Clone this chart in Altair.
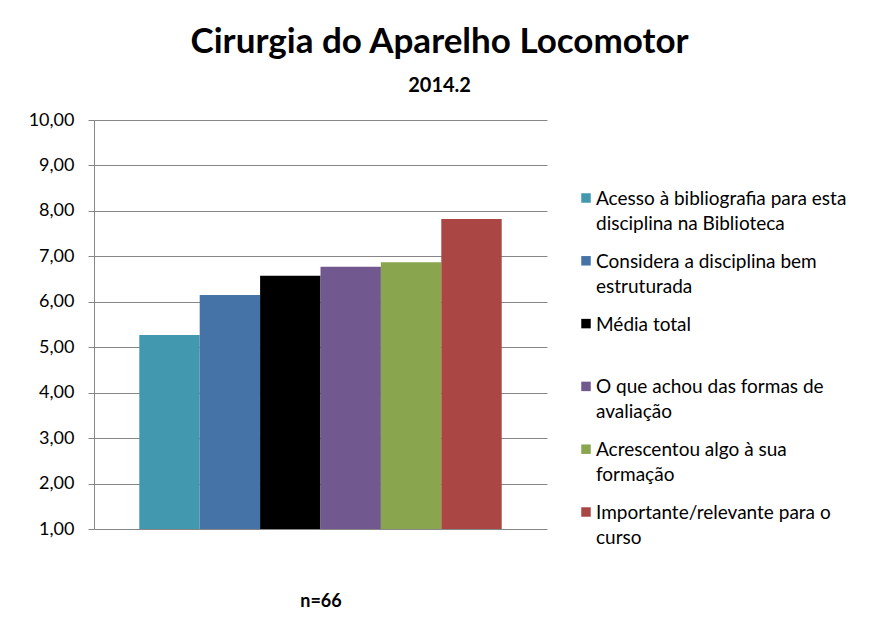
import altair as alt
import pandas as pd

categories = [
    "Acesso à bibliografia para esta disciplina na Biblioteca",
    "Considera a disciplina bem estruturada",
    "Média total",
    "O que achou das formas de avaliação",
    "Acrescentou algo à sua formação",
    "Importante/relevante para o curso",
]
legend_labels = [
    "Acesso à bibliografia para esta\ndisciplina na Biblioteca",
    "Considera a disciplina bem\nestruturada",
    "Média total",
    "O que achou das formas de\navaliação",
    "Acrescentou algo à sua\nformação",
    "Importante/relevante para o\ncurso",
]
values = [5.27, 6.15, 6.57, 6.77, 6.87, 7.82]
colors = ["#4198AF", "#4572A7", "#000000", "#71588F", "#89A54E", "#AA4643"]
y_ticks = [1, 2, 3, 4, 5, 6, 7, 8, 9, 10]

df = pd.DataFrame({"cat": categories, "label": legend_labels, "value": values})

FONT = "Lato"
GRID = "#868686"

color = alt.Color("cat:N", scale=alt.Scale(domain=categories, range=colors), legend=None)

bars = alt.Chart(df).mark_bar().encode(
    x=alt.X(
        "cat:N",
        sort=categories,
        scale=alt.Scale(paddingInner=0, paddingOuter=0.75),
        axis=alt.Axis(
            labels=False, ticks=False, domain=False, title="n=66",
            titleFont=FONT, titleFontSize=18, titleFontWeight="bold",
            titleColor="black", titlePadding=63,
        ),
    ),
    y=alt.Y(
        "value:Q",
        scale=alt.Scale(domain=[1, 10]),
        axis=alt.Axis(
            values=y_ticks, title=None,
            labelExpr="replace(format(datum.value, '.2f'), '.', ',')",
            labelFont=FONT, labelFontSize=18, labelColor="black",
            labelPadding=14, tickSize=6, tickColor=GRID,
            domainColor=GRID, gridColor=GRID, gridOpacity=1,
        ),
    ),
    y2=alt.datum(1),
    color=color,
).properties(width=453, height=409)

leg_base = alt.Chart(df).encode(
    y=alt.Y("cat:N", sort=categories,
            scale=alt.Scale(type="point", range=[78, 392], padding=0), axis=None)
)
leg_sq = leg_base.mark_square(size=90, opacity=1).encode(x=alt.value(5), color=color)
leg_tx = leg_base.mark_text(
    align="left", baseline="top", dy=-8, lineBreak="\n",
    font=FONT, fontSize=19, lineHeight=25, color="black",
).encode(x=alt.value(15), text="label:N")
legend_chart = alt.layer(leg_sq, leg_tx).properties(width=270, height=409)

chart = alt.hconcat(bars, legend_chart, spacing=34).resolve_scale(
    x="independent", y="independent"
).properties(
    title=alt.TitleParams(
        text="Cirurgia do Aparelho Locomotor",
        subtitle="2014.2",
        font=FONT, fontSize=35, fontWeight="bold", color="black",
        subtitleFont=FONT, subtitleFontSize=20, subtitleFontWeight="bold",
        subtitleColor="black", subtitlePadding=16,
        anchor="middle", offset=15,
    ),
    padding={"left": 20, "top": 17, "right": 0, "bottom": 0},
    background="white",
).configure_view(stroke=None)

chart.save("out.html", embed_options={"renderer": "svg", "actions": False})
